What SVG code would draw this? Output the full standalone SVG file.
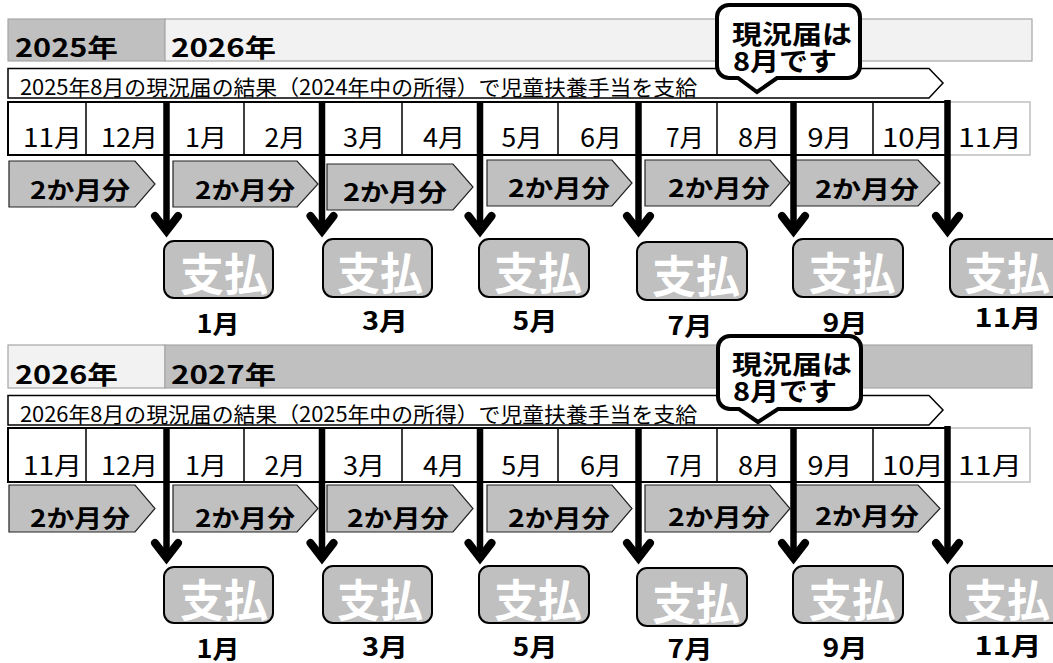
<svg xmlns="http://www.w3.org/2000/svg" width="1053" height="663" viewBox="0 0 1053 663">
<style>
text{font-family:"Noto Sans CJK JP","Noto Sans",sans-serif;fill:#000}
.yr{font-size:25px;font-weight:bold}
.ban{font-size:21px}
.mo{font-size:25px;text-anchor:middle}
.chv{font-size:24px;font-weight:bold;text-anchor:middle}
.pay{font-size:44px;font-weight:bold;fill:#fff;text-anchor:middle}
.pm{font-size:25px;font-weight:bold;text-anchor:middle}
.co{font-size:26px;font-weight:bold}
.ybg{stroke:#a6a6a6;stroke-width:1.2}
.chevron{fill:#c0c0c0;stroke:#222;stroke-width:1.2}
.box{fill:#c0c0c0;stroke:#000;stroke-width:2}
.callout{fill:#fff;stroke:#000;stroke-width:4;stroke-linejoin:miter}
.shaft{stroke:#000;stroke-width:6.5;fill:none}
.head{stroke:#000;stroke-width:8;fill:none;stroke-linecap:round;stroke-linejoin:miter}
</style>
<rect width="1053" height="663" fill="#fff"/>

<!-- ===== Section 1 ===== -->
<g id="years-1">
<rect class="ybg" x="8" y="19" width="157" height="42" fill="#c0c0c0"/>
<rect class="ybg" x="165" y="19" width="867" height="42" fill="#f2f2f2"/>
<text class="yr" x="15" y="57" textLength="103" lengthAdjust="spacingAndGlyphs">2025年</text>
<text class="yr" x="171" y="57" textLength="105" lengthAdjust="spacingAndGlyphs">2026年</text>
</g>
<g id="banner-1">
<path d="M8,68.5 H929 L943,83 L929,98 H8 Z" fill="#fff" stroke="#000" stroke-width="1.5"/>
<text class="ban" x="20" y="95" textLength="677" lengthAdjust="spacingAndGlyphs">2025年8月の現況届の結果（2024年中の所得）で児童扶養手当を支給</text>
</g>
<g id="months-1">
<rect x="948" y="102" width="82" height="53" fill="#fff" stroke="#bfbfbf" stroke-width="1.5"/>
<rect x="8" y="102" width="940" height="53" fill="#fff" stroke="#000" stroke-width="2"/>
<path d="M86,102V155 M244,102V155 M402,102V155 M558,102V155 M717,102V155 M873,102V155" stroke="#000" stroke-width="1.5"/>
<text class="mo" x="52.5" y="147" textLength="59" lengthAdjust="spacingAndGlyphs">11月</text>
<text class="mo" x="129.5" y="147" textLength="57" lengthAdjust="spacingAndGlyphs">12月</text>
<text class="mo" x="206" y="147" textLength="42" lengthAdjust="spacingAndGlyphs">1月</text>
<text class="mo" x="285" y="147" textLength="41" lengthAdjust="spacingAndGlyphs">2月</text>
<text class="mo" x="364" y="147" textLength="42" lengthAdjust="spacingAndGlyphs">3月</text>
<text class="mo" x="444" y="147" textLength="42" lengthAdjust="spacingAndGlyphs">4月</text>
<text class="mo" x="522" y="147" textLength="41" lengthAdjust="spacingAndGlyphs">5月</text>
<text class="mo" x="601" y="147" textLength="42" lengthAdjust="spacingAndGlyphs">6月</text>
<text class="mo" x="685" y="147" textLength="38" lengthAdjust="spacingAndGlyphs">7月</text>
<text class="mo" x="759" y="147" textLength="42" lengthAdjust="spacingAndGlyphs">8月</text>
<text class="mo" x="830" y="147" textLength="45" lengthAdjust="spacingAndGlyphs">9月</text>
<text class="mo" x="913" y="147" textLength="62" lengthAdjust="spacingAndGlyphs">10月</text>
<text class="mo" x="990" y="147" textLength="64" lengthAdjust="spacingAndGlyphs">11月</text>
</g>
<g id="periods-1">
<path class="chevron" d="M9,161 H135 L155,184 L135,207 H9 Z"/>
<text class="chv" x="80" y="199" textLength="100" lengthAdjust="spacingAndGlyphs">2か月分</text>
<path class="chevron" d="M173,161 H297 L318,184 L297,207 H173 Z"/>
<text class="chv" x="245" y="199" textLength="100" lengthAdjust="spacingAndGlyphs">2か月分</text>
<path class="chevron" d="M327,164 H453 L473,187 L453,210 H327 Z"/>
<text class="chv" x="395" y="201" textLength="104" lengthAdjust="spacingAndGlyphs">2か月分</text>
<path class="chevron" d="M487,160 H612 L632,183 L612,206 H487 Z"/>
<text class="chv" x="559" y="197" textLength="102" lengthAdjust="spacingAndGlyphs">2か月分</text>
<path class="chevron" d="M645,160 H770 L790,183 L770,206 H645 Z"/>
<text class="chv" x="719" y="197" textLength="102" lengthAdjust="spacingAndGlyphs">2か月分</text>
<path class="chevron" d="M795,160 H918 L940,183 L918,206 H795 Z"/>
<text class="chv" x="867" y="198" textLength="104" lengthAdjust="spacingAndGlyphs">2か月分</text>
</g>
<g id="payments-1">
<g id="pay-1-jan"><rect class="box" x="164" y="241" width="109" height="57" rx="10"/><text class="pay" x="224" y="291" textLength="88" lengthAdjust="spacingAndGlyphs">支払</text><text class="pm" x="218" y="333" textLength="43" lengthAdjust="spacingAndGlyphs">1月</text></g>
<g id="pay-1-mar"><rect class="box" x="323" y="239" width="109" height="58" rx="10"/><text class="pay" x="380" y="290" textLength="86" lengthAdjust="spacingAndGlyphs">支払</text><text class="pm" x="385" y="330" textLength="46" lengthAdjust="spacingAndGlyphs">3月</text></g>
<g id="pay-1-may"><rect class="box" x="479" y="239" width="110" height="58" rx="10"/><text class="pay" x="538" y="290" textLength="88" lengthAdjust="spacingAndGlyphs">支払</text><text class="pm" x="535" y="330" textLength="45" lengthAdjust="spacingAndGlyphs">5月</text></g>
<g id="pay-1-jul"><rect class="box" x="637" y="242" width="110" height="58" rx="10"/><text class="pay" x="696" y="293" textLength="88" lengthAdjust="spacingAndGlyphs">支払</text><text class="pm" x="690" y="335" textLength="45" lengthAdjust="spacingAndGlyphs">7月</text></g>
<g id="pay-1-sep"><rect class="box" x="793" y="239" width="110" height="58" rx="10"/><text class="pay" x="852" y="290" textLength="87" lengthAdjust="spacingAndGlyphs">支払</text><text class="pm" x="845" y="332" textLength="45" lengthAdjust="spacingAndGlyphs">9月</text></g>
<g id="pay-1-nov"><rect class="box" x="950" y="239" width="115" height="58" rx="10"/><text class="pay" x="1007" y="290" textLength="86" lengthAdjust="spacingAndGlyphs">支払</text><text class="pm" x="1008" y="327" textLength="67" lengthAdjust="spacingAndGlyphs">11月</text></g>
</g>

<!-- ===== Section 2 ===== -->
<g id="years-2">
<rect class="ybg" x="8" y="345" width="157" height="43" fill="#f2f2f2"/>
<rect class="ybg" x="165" y="345" width="867" height="43" fill="#c0c0c0"/>
<text class="yr" x="15" y="384" textLength="103" lengthAdjust="spacingAndGlyphs">2026年</text>
<text class="yr" x="171" y="384" textLength="105" lengthAdjust="spacingAndGlyphs">2027年</text>
</g>
<g id="banner-2">
<path d="M8,395.5 H929 L943,410 L929,425 H8 Z" fill="#fff" stroke="#000" stroke-width="1.5"/>
<text class="ban" x="20" y="422" textLength="677" lengthAdjust="spacingAndGlyphs">2026年8月の現況届の結果（2025年中の所得）で児童扶養手当を支給</text>
</g>
<g id="months-2">
<rect x="948" y="428" width="82" height="54" fill="#fff" stroke="#bfbfbf" stroke-width="1.5"/>
<rect x="8" y="428" width="940" height="54" fill="#fff" stroke="#000" stroke-width="2"/>
<path d="M86,428V482 M244,428V482 M402,428V482 M558,428V482 M717,428V482 M873,428V482" stroke="#000" stroke-width="1.5"/>
<text class="mo" x="52.5" y="475" textLength="59" lengthAdjust="spacingAndGlyphs">11月</text>
<text class="mo" x="129.5" y="475" textLength="57" lengthAdjust="spacingAndGlyphs">12月</text>
<text class="mo" x="206" y="475" textLength="42" lengthAdjust="spacingAndGlyphs">1月</text>
<text class="mo" x="285" y="475" textLength="41" lengthAdjust="spacingAndGlyphs">2月</text>
<text class="mo" x="364" y="475" textLength="42" lengthAdjust="spacingAndGlyphs">3月</text>
<text class="mo" x="444" y="475" textLength="42" lengthAdjust="spacingAndGlyphs">4月</text>
<text class="mo" x="522" y="475" textLength="41" lengthAdjust="spacingAndGlyphs">5月</text>
<text class="mo" x="601" y="475" textLength="42" lengthAdjust="spacingAndGlyphs">6月</text>
<text class="mo" x="685" y="475" textLength="38" lengthAdjust="spacingAndGlyphs">7月</text>
<text class="mo" x="759" y="475" textLength="42" lengthAdjust="spacingAndGlyphs">8月</text>
<text class="mo" x="830" y="475" textLength="45" lengthAdjust="spacingAndGlyphs">9月</text>
<text class="mo" x="913" y="475" textLength="62" lengthAdjust="spacingAndGlyphs">10月</text>
<text class="mo" x="990" y="475" textLength="64" lengthAdjust="spacingAndGlyphs">11月</text>
</g>
<g id="periods-2">
<path class="chevron" d="M9,485 H135 L155,508.5 L135,532 H9 Z"/>
<text class="chv" x="80" y="527" textLength="100" lengthAdjust="spacingAndGlyphs">2か月分</text>
<path class="chevron" d="M173,485 H297 L318,508.5 L297,532 H173 Z"/>
<text class="chv" x="245" y="527" textLength="100" lengthAdjust="spacingAndGlyphs">2か月分</text>
<path class="chevron" d="M327,485 H453 L473,508.5 L453,532 H327 Z"/>
<text class="chv" x="398" y="527" textLength="102" lengthAdjust="spacingAndGlyphs">2か月分</text>
<path class="chevron" d="M487,485 H612 L632,508.5 L612,532 H487 Z"/>
<text class="chv" x="559" y="527" textLength="102" lengthAdjust="spacingAndGlyphs">2か月分</text>
<path class="chevron" d="M645,485 H770 L790,508.5 L770,532 H645 Z"/>
<text class="chv" x="719" y="526" textLength="102" lengthAdjust="spacingAndGlyphs">2か月分</text>
<path class="chevron" d="M795,485 H918 L940,508.5 L918,532 H795 Z"/>
<text class="chv" x="867" y="525" textLength="104" lengthAdjust="spacingAndGlyphs">2か月分</text>
</g>
<g id="payments-2">
<g id="pay-2-jan"><rect class="box" x="164" y="567" width="109" height="56" rx="10"/><text class="pay" x="224" y="617" textLength="88" lengthAdjust="spacingAndGlyphs">支払</text><text class="pm" x="218" y="658" textLength="43" lengthAdjust="spacingAndGlyphs">1月</text></g>
<g id="pay-2-mar"><rect class="box" x="323" y="566" width="109" height="57" rx="10"/><text class="pay" x="380" y="617" textLength="86" lengthAdjust="spacingAndGlyphs">支払</text><text class="pm" x="385" y="656" textLength="46" lengthAdjust="spacingAndGlyphs">3月</text></g>
<g id="pay-2-may"><rect class="box" x="479" y="566" width="110" height="57" rx="10"/><text class="pay" x="538" y="617" textLength="88" lengthAdjust="spacingAndGlyphs">支払</text><text class="pm" x="535" y="656" textLength="45" lengthAdjust="spacingAndGlyphs">5月</text></g>
<g id="pay-2-jul"><rect class="box" x="637" y="568" width="110" height="58" rx="10"/><text class="pay" x="696" y="620" textLength="88" lengthAdjust="spacingAndGlyphs">支払</text><text class="pm" x="690" y="658" textLength="45" lengthAdjust="spacingAndGlyphs">7月</text></g>
<g id="pay-2-sep"><rect class="box" x="793" y="566" width="110" height="57" rx="10"/><text class="pay" x="852" y="617" textLength="87" lengthAdjust="spacingAndGlyphs">支払</text><text class="pm" x="845" y="657" textLength="45" lengthAdjust="spacingAndGlyphs">9月</text></g>
<g id="pay-2-nov"><rect class="box" x="950" y="566" width="115" height="57" rx="10"/><text class="pay" x="1007" y="617" textLength="86" lengthAdjust="spacingAndGlyphs">支払</text><text class="pm" x="1008" y="655" textLength="67" lengthAdjust="spacingAndGlyphs">11月</text></g>
</g>

<!-- ===== Connectors (arrows) ===== -->
<g id="connectors">
<path class="shaft" d="M166.5,102V233 M322,102V233 M480,102V233 M638.5,102V233 M793.5,102V233 M947.5,100V233"/>
<path class="head" d="M155,216L166.5,231L178,216 M310.5,216L322,231L333.5,216 M468.5,216L480,231L491.5,216 M627,216L638.5,231L650,216 M782,216L793.5,231L805,216 M936,216L947.5,231L959,216"/>
<path class="shaft" d="M166.5,428V560 M322,428V560 M480,428V560 M638.5,428V560 M793.5,428V560 M947.5,426V560"/>
<path class="head" d="M155,543L166.5,558L178,543 M310.5,543L322,558L333.5,543 M468.5,543L480,558L491.5,543 M627,543L638.5,558L650,543 M782,543L793.5,558L805,543 M936,543L947.5,558L959,543"/>
</g>

<!-- ===== Callouts ===== -->
<g id="callout-1">
<path class="callout" d="M729,5 H848 A12,12 0 0 1 860,17 V66 A12,12 0 0 1 848,78 H777 L757,92 L738,78 H729 A12,12 0 0 1 717,66 V17 A12,12 0 0 1 729,5 Z"/>
<text class="co" x="732" y="44" textLength="120" lengthAdjust="spacingAndGlyphs">現況届は</text>
<text class="co" x="733" y="71" textLength="104" lengthAdjust="spacingAndGlyphs">8月です</text>
</g>
<g id="callout-2">
<path class="callout" d="M730,336 H849 A12,12 0 0 1 861,348 V397 A12,12 0 0 1 849,409 H778 L758,422 L739,409 H730 A12,12 0 0 1 718,397 V348 A12,12 0 0 1 730,336 Z"/>
<text class="co" x="732" y="374" textLength="120" lengthAdjust="spacingAndGlyphs">現況届は</text>
<text class="co" x="733" y="401" textLength="104" lengthAdjust="spacingAndGlyphs">8月です</text>
</g>
</svg>
